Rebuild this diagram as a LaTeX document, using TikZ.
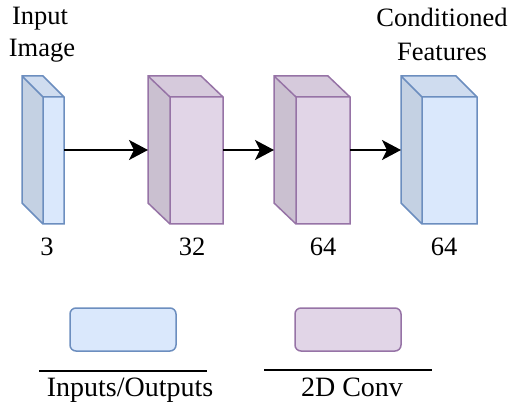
\documentclass[tikz,border=0pt]{standalone}
\usepackage{fontspec}
\setmainfont{Liberation Serif}
\usetikzlibrary{arrows.meta}
\definecolor{bfill}{HTML}{DAE8FC}
\definecolor{bline}{HTML}{6C8EBF}
\definecolor{pfill}{HTML}{E1D5E7}
\definecolor{pline}{HTML}{9673A6}
\tikzset{
  cubebb/.style={inner sep=0pt, outer sep=0pt, minimum height=148pt},
  lbl/.style={anchor=base, inner sep=0pt, font=\rmfamily\fontsize{26.5}{32}\selectfont},
  leglbl/.style={anchor=base, inner sep=0pt, font=\rmfamily\fontsize{28}{32}\selectfont},
  flow/.style={line width=2.2pt, -{Stealth[length=19pt,width=20pt,inset=5pt]}},
  legbox/.style={rounded corners=6pt, line width=1.5pt, minimum width=106pt, minimum height=43pt, inner sep=0pt},
  legline/.style={line width=1.5pt},
}
\newcommand\drawcube[6]{%
  \node[cubebb, minimum width={(#4-#2)*1pt}] (#1) at ({(#2+#4)/2},150) {};
  \fill[#5!90!black] (#2,76) -- (#3,97) -- (#3,224) -- (#2,203) -- cycle;
  \fill[#5!95!black] (#2,76) -- ({#2+#4-#3},76) -- (#4,97) -- (#3,97) -- cycle;
  \fill[#5] (#3,97) rectangle (#4,224);
  \draw[#6, line width=1.5pt, line join=miter]
    (#2,76) -- ({#2+#4-#3},76) -- (#4,97) -- (#4,224) -- (#3,224) -- (#2,203) -- cycle
    (#2,76) -- (#3,97) -- (#4,97) (#3,97) -- (#3,224);
}
\begin{document}
\begin{tikzpicture}[x=1pt, y=-1pt]
\useasboundingbox (0,0) rectangle (514,406);
\drawcube{c1}{22}{43}{64}{bfill}{bline}
\drawcube{c2}{148}{170}{223}{pfill}{pline}
\drawcube{c3}{274}{296}{350}{pfill}{pline}
\drawcube{c4}{401}{422}{477}{bfill}{bline}
\draw[flow] (c1.east) -- (c2.west);
\draw[flow] (c2.east) -- (c3.west);
\draw[flow] (c3.east) -- (c4.west);
\node[lbl] (t1a) at (40,25) {Input};
\node[lbl] (t1b) at (42,57) {Image};
\node[lbl] (t4a) at (442,27) {Conditioned};
\node[lbl] (t4b) at (442,61) {Features};
\node[lbl] (n1) at (47,255) {3};
\node[lbl] (n2) at (192,255) {32};
\node[lbl] (n3) at (323,255) {64};
\node[lbl] (n4) at (444,255) {64};
\node[legbox, draw=bline, fill=bfill] (leg1) at (123,329.5) {};
\node[legbox, draw=pline, fill=pfill] (leg2) at (348,329.5) {};
\coordinate (l1a) at (39,371);
\coordinate (l1b) at (207,371);
\coordinate (l2a) at (264,370);
\coordinate (l2b) at (432,370);
\draw[legline] (l1a) -- (l1b);
\draw[legline] (l2a) -- (l2b);
\node[leglbl] (k1) at (130,396) {Inputs/Outputs};
\node[leglbl] (k2) at (352,396) {2D Conv};
\end{tikzpicture}
\end{document}
